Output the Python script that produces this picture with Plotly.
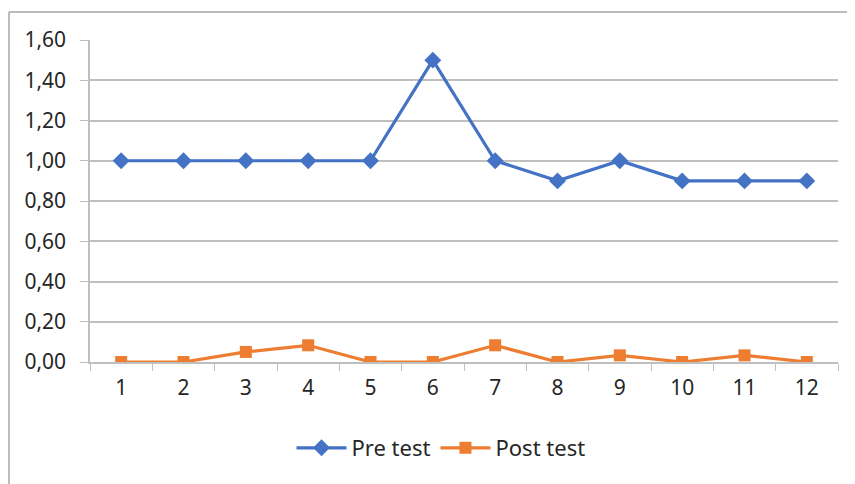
import plotly.graph_objects as go

categories = [str(i) for i in range(1, 13)]
pre_test = [1.00, 1.00, 1.00, 1.00, 1.00, 1.50, 1.00, 0.90, 1.00, 0.90, 0.90, 0.90]
post_test = [0.00, 0.00, 0.05, 0.083, 0.00, 0.00, 0.083, 0.00, 0.033, 0.00, 0.033, 0.00]
y_ticks = [0, 0.2, 0.4, 0.6, 0.8, 1.0, 1.2, 1.4, 1.6]

BLUE = "#4472C4"
ORANGE = "#ED7D31"
GRID = "#bfbfbf"

fig = go.Figure()
fig.add_trace(go.Scatter(
    x=categories, y=pre_test, name="Pre test", mode="lines+markers",
    line=dict(color=BLUE, width=3.2),
    marker=dict(symbol="diamond", size=13, color=BLUE),
))
fig.add_trace(go.Scatter(
    x=categories, y=post_test, name="Post test", mode="lines+markers",
    line=dict(color=ORANGE, width=3.2),
    marker=dict(symbol="square", size=12, color=ORANGE),
))

# page body has an 8px margin; figure origin is at screen (8, 8)
OX, OY = 8, 8
W, H = 855 - OX, 484 - OY
L, R, T, B = 90 - OX, 838 - OX, 40 - OY, 362 - OY

fig.update_layout(
    width=W, height=H,
    margin=dict(l=L, r=W - R, t=T, b=H - B, pad=0),
    paper_bgcolor="white", plot_bgcolor="white",
    separators=",.",
    font=dict(family="Noto Sans, DejaVu Sans, sans-serif", size=21, color="#262626"),
    showlegend=True,
    legend=dict(orientation="h", x=(441 - OX - L) / (R - L), xanchor="center",
                y=(B - (448 - OY)) / (B - T), yanchor="middle",
                font=dict(size=22), itemwidth=50, tracegroupgap=0),
    xaxis=dict(type="category", showgrid=False, showline=True, linecolor=GRID, linewidth=1.5,
               ticks="outside", tickson="boundaries", ticklen=7, tickcolor=GRID,
               ticklabelstandoff=6, range=[-0.5, 11.5], fixedrange=True),
    yaxis=dict(range=[0, 1.6], tickvals=y_ticks, tickformat=".2f",
               showgrid=True, gridcolor=GRID, gridwidth=1.5,
               showline=True, linecolor=GRID, linewidth=1.5,
               ticks="outside", ticklen=8, tickcolor=GRID,
               ticklabelstandoff=10, zeroline=False, fixedrange=True),
)

# outer chart border (left and top edges visible)
px = lambda x: (x - OX - L) / (R - L)
py = lambda y: (B - (y - OY)) / (B - T)
fig.add_shape(type="line", xref="paper", yref="paper",
              x0=px(9), x1=px(9), y0=py(12), y1=py(490),
              line=dict(color="#a6a6a6", width=1.5))
fig.add_shape(type="line", xref="paper", yref="paper",
              x0=px(9), x1=px(860), y0=py(12), y1=py(12),
              line=dict(color="#a6a6a6", width=1.5))

fig.write_html("out.html")
